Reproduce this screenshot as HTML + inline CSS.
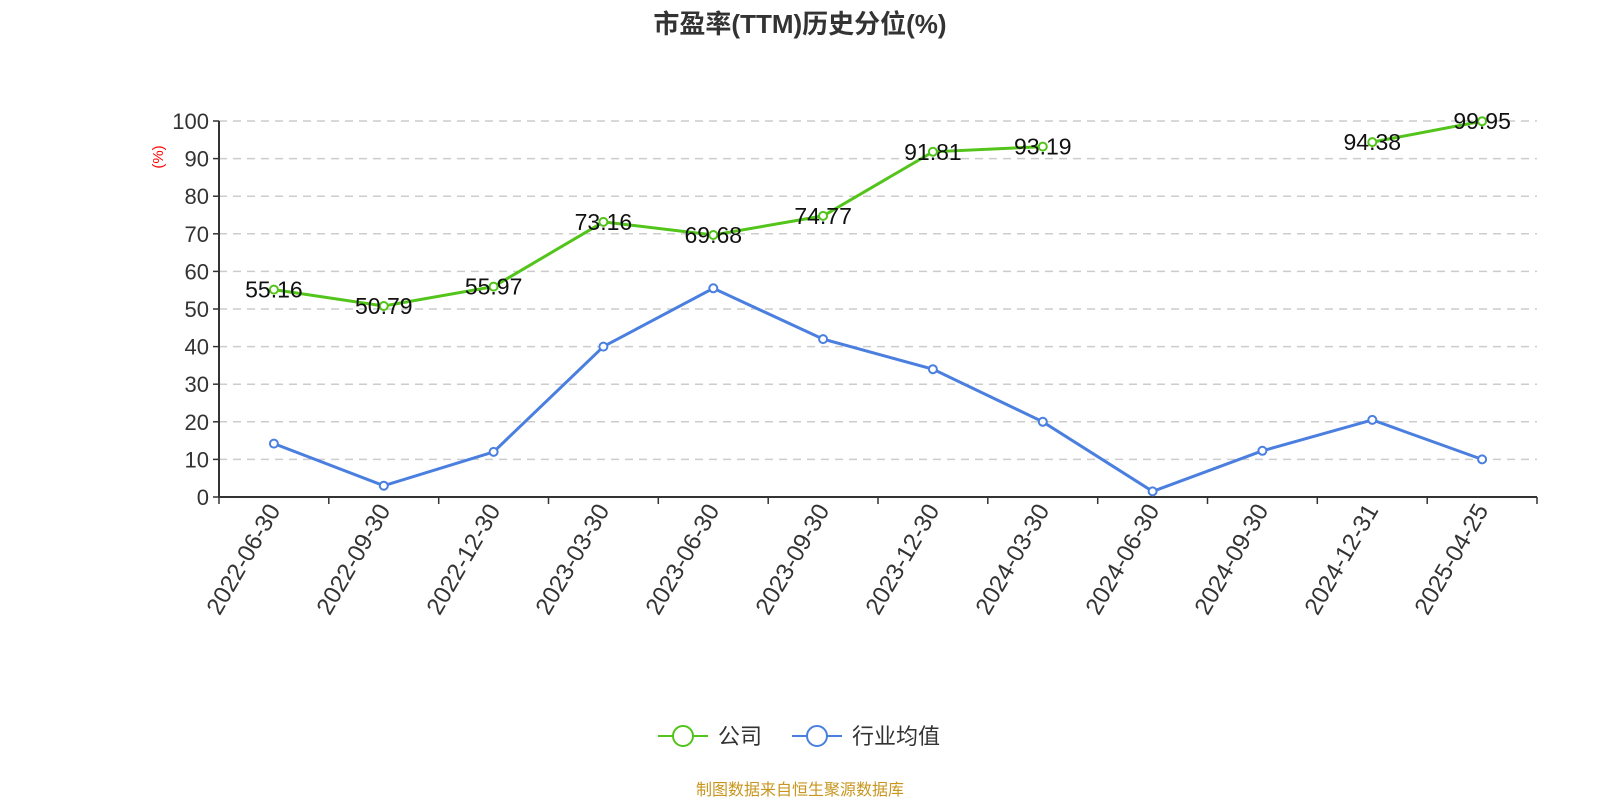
<!DOCTYPE html>
<html><head><meta charset="utf-8"><style>body{margin:0;background:#fff;}svg{display:block}</style></head><body>
<svg width="1600" height="800" xmlns="http://www.w3.org/2000/svg" font-family="'Liberation Sans','Noto Sans CJK SC',sans-serif">
<text x="800" y="33" text-anchor="middle" font-size="26" font-weight="bold" fill="#333">市盈率(TTM)历史分位(%)</text>
<g stroke="#ccc" stroke-dasharray="8,6" stroke-width="1.5">
<line x1="219" y1="459.4" x2="1537" y2="459.4"/><line x1="219" y1="421.8" x2="1537" y2="421.8"/><line x1="219" y1="384.2" x2="1537" y2="384.2"/><line x1="219" y1="346.6" x2="1537" y2="346.6"/><line x1="219" y1="309" x2="1537" y2="309"/><line x1="219" y1="271.4" x2="1537" y2="271.4"/><line x1="219" y1="233.8" x2="1537" y2="233.8"/><line x1="219" y1="196.2" x2="1537" y2="196.2"/><line x1="219" y1="158.6" x2="1537" y2="158.6"/><line x1="219" y1="121" x2="1537" y2="121"/>
</g>
<g stroke="#333" stroke-width="1.5">
<line x1="213" y1="497" x2="219" y2="497"/><line x1="213" y1="459.4" x2="219" y2="459.4"/><line x1="213" y1="421.8" x2="219" y2="421.8"/><line x1="213" y1="384.2" x2="219" y2="384.2"/><line x1="213" y1="346.6" x2="219" y2="346.6"/><line x1="213" y1="309" x2="219" y2="309"/><line x1="213" y1="271.4" x2="219" y2="271.4"/><line x1="213" y1="233.8" x2="219" y2="233.8"/><line x1="213" y1="196.2" x2="219" y2="196.2"/><line x1="213" y1="158.6" x2="219" y2="158.6"/><line x1="213" y1="121" x2="219" y2="121"/>
<line x1="219" y1="497" x2="219" y2="504"/><line x1="328.8" y1="497" x2="328.8" y2="504"/><line x1="438.7" y1="497" x2="438.7" y2="504"/><line x1="548.5" y1="497" x2="548.5" y2="504"/><line x1="658.3" y1="497" x2="658.3" y2="504"/><line x1="768.2" y1="497" x2="768.2" y2="504"/><line x1="878" y1="497" x2="878" y2="504"/><line x1="987.8" y1="497" x2="987.8" y2="504"/><line x1="1097.7" y1="497" x2="1097.7" y2="504"/><line x1="1207.5" y1="497" x2="1207.5" y2="504"/><line x1="1317.3" y1="497" x2="1317.3" y2="504"/><line x1="1427.2" y1="497" x2="1427.2" y2="504"/><line x1="1537" y1="497" x2="1537" y2="504"/>
</g>
<line x1="219" y1="121" x2="219" y2="497" stroke="#333" stroke-width="2"/>
<line x1="219" y1="497" x2="1537" y2="497" stroke="#333" stroke-width="2"/>
<g font-size="22" fill="#333" text-anchor="end">
<text x="209" y="505">0</text><text x="209" y="467.4">10</text><text x="209" y="429.8">20</text><text x="209" y="392.2">30</text><text x="209" y="354.6">40</text><text x="209" y="317">50</text><text x="209" y="279.4">60</text><text x="209" y="241.8">70</text><text x="209" y="204.2">80</text><text x="209" y="166.6">90</text><text x="209" y="129">100</text>
</g>
<g font-size="24" fill="#333" text-anchor="end">
<text transform="translate(281,510) rotate(-60)">2022-06-30</text>
<text transform="translate(391,510) rotate(-60)">2022-09-30</text>
<text transform="translate(501,510) rotate(-60)">2022-12-30</text>
<text transform="translate(610,510) rotate(-60)">2023-03-30</text>
<text transform="translate(720,510) rotate(-60)">2023-06-30</text>
<text transform="translate(830,510) rotate(-60)">2023-09-30</text>
<text transform="translate(940,510) rotate(-60)">2023-12-30</text>
<text transform="translate(1050,510) rotate(-60)">2024-03-30</text>
<text transform="translate(1160,510) rotate(-60)">2024-06-30</text>
<text transform="translate(1269,510) rotate(-60)">2024-09-30</text>
<text transform="translate(1379,510) rotate(-60)">2024-12-31</text>
<text transform="translate(1489,510) rotate(-60)">2025-04-25</text>
</g>
<text transform="translate(163,157) rotate(-90)" text-anchor="middle" font-size="15" fill="#f00">(%)</text>
<path d="M273.9,443.6L383.8,485.7L493.6,451.9L603.4,346.6L713.3,288.3L823.1,339.1L932.9,369.2L1042.8,421.8L1152.6,491.4L1262.4,450.8L1372.3,419.9L1482.1,459.4" fill="none" stroke="#4a7fe0" stroke-width="3"/>
<g fill="#fff" stroke="#4a7fe0" stroke-width="2">
<circle cx="273.9" cy="443.6" r="4"/><circle cx="383.8" cy="485.7" r="4"/><circle cx="493.6" cy="451.9" r="4"/><circle cx="603.4" cy="346.6" r="4"/><circle cx="713.3" cy="288.3" r="4"/><circle cx="823.1" cy="339.1" r="4"/><circle cx="932.9" cy="369.2" r="4"/><circle cx="1042.8" cy="421.8" r="4"/><circle cx="1152.6" cy="491.4" r="4"/><circle cx="1262.4" cy="450.8" r="4"/><circle cx="1372.3" cy="419.9" r="4"/><circle cx="1482.1" cy="459.4" r="4"/>
</g>
<path d="M273.9,289.6L383.8,306L493.6,286.6L603.4,221.9L713.3,235L823.1,215.9L932.9,151.8L1042.8,146.6M1372.3,142.1L1482.1,121.2" fill="none" stroke="#52c41a" stroke-width="3"/>
<g fill="#fff" stroke="#52c41a" stroke-width="2">
<circle cx="273.9" cy="289.6" r="4"/><circle cx="383.8" cy="306" r="4"/><circle cx="493.6" cy="286.6" r="4"/><circle cx="603.4" cy="221.9" r="4"/><circle cx="713.3" cy="235" r="4"/><circle cx="823.1" cy="215.9" r="4"/><circle cx="932.9" cy="151.8" r="4"/><circle cx="1042.8" cy="146.6" r="4"/><circle cx="1372.3" cy="142.1" r="4"/><circle cx="1482.1" cy="121.2" r="4"/>
</g>
<g font-size="23" fill="#111" text-anchor="middle">
<text x="273.9" y="297.6">55.16</text><text x="383.8" y="314">50.79</text><text x="493.6" y="294.6">55.97</text><text x="603.4" y="229.9">73.16</text><text x="713.3" y="243">69.68</text><text x="823.1" y="223.9">74.77</text><text x="932.9" y="159.8">91.81</text><text x="1042.8" y="154.6">93.19</text><text x="1372.3" y="150.1">94.38</text><text x="1482.1" y="129.2">99.95</text>
</g>
<g transform="translate(0,736)">
<line x1="658" y1="0" x2="708" y2="0" stroke="#52c41a" stroke-width="2"/><circle cx="683" cy="0" r="10" fill="#fff" stroke="#52c41a" stroke-width="2"/>
<text x="718" y="8" font-size="22" fill="#333">公司</text>
<line x1="792" y1="0" x2="842" y2="0" stroke="#4a7fe0" stroke-width="2"/><circle cx="817" cy="0" r="10" fill="#fff" stroke="#4a7fe0" stroke-width="2"/>
<text x="852" y="8" font-size="22" fill="#333">行业均值</text>
</g>
<text x="800" y="795" text-anchor="middle" font-size="16" fill="#c8961e">制图数据来自恒生聚源数据库</text>
</svg>
</body></html>
